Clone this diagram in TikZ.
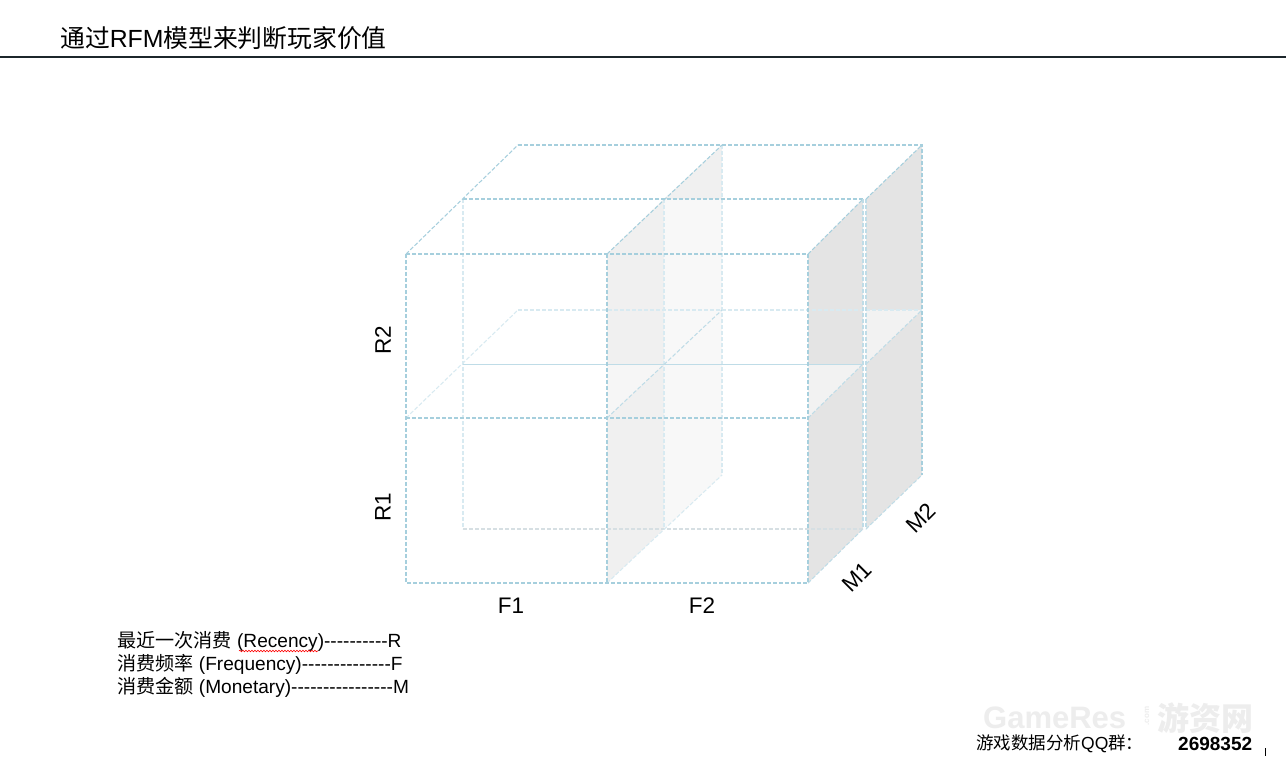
\documentclass[tikz,border=0pt]{standalone}
\usepackage{fontspec}
\setmainfont{Liberation Sans}
\newfontfamily\cjk{Noto Sans CJK SC}
\usetikzlibrary{decorations.pathmorphing}
\definecolor{lbA}{HTML}{A6CFDD}
\definecolor{lbB}{HTML}{BFDCE7}
\definecolor{lbC}{HTML}{D8EAF1}
\definecolor{lgray}{HTML}{D6DFE3}
\definecolor{faceA}{HTML}{F0F0F0}
\definecolor{faceB}{HTML}{F8F8F8}
\definecolor{faceR}{HTML}{E4E4E4}
\definecolor{faceL}{HTML}{F2F2F2}
\definecolor{faceL2}{HTML}{F6F6F6}
\definecolor{rule}{HTML}{1C262B}
\definecolor{wmark}{HTML}{EDEDED}
\newcommand\dashrun[1]{\foreach\k in {1,...,#1}{\mbox{-}}}
\begin{document}
\begin{tikzpicture}[x=1pt,y=-1pt,
  strongln/.style={draw=lbA, line width=1.05pt, dash pattern=on 4pt off 2pt},
  mediumln/.style={draw=lbB, line width=1.05pt, dash pattern=on 4pt off 2pt},
  faintln/.style={draw=lbC, line width=1.05pt, dash pattern=on 4pt off 2pt},
  grayln/.style={draw=lgray, line width=1.05pt, dash pattern=on 4pt off 2pt},
  axislbl/.style={font=\fontsize{22.5}{26}\selectfont, inner sep=0pt},
  legend/.style={font=\fontsize{19.1}{22}\selectfont, anchor=west, inner sep=0pt}]
\useasboundingbox (0,0) rectangle (1286,756);
\fill[white] (0,0) rectangle (1286,756);

% title
\node[anchor=west, inner sep=0pt, font=\fontsize{24.8}{28}\selectfont] (title) at (60,38) {{\cjk 通过}RFM{\cjk 模型来判断玩家价值}};
\draw[rule, line width=1.2pt] (0,57) coordinate (ruleL) -- (1286,57) coordinate (ruleR);

% cube vertices: front layer (a), middle layer (b, c), back layer (d)
\coordinate (a00) at (406,254); \coordinate (a10) at (607,254); \coordinate (a20) at (808,254);
\coordinate (a01) at (406,418); \coordinate (a11) at (607,418); \coordinate (a21) at (808,418);
\coordinate (a02) at (406,583); \coordinate (a12) at (607,583); \coordinate (a22) at (808,583);
\coordinate (b00) at (463,199); \coordinate (b10) at (664,199); \coordinate (b20) at (863,199);
\coordinate (b01) at (463,364); \coordinate (b11) at (664,364); \coordinate (b21) at (863,364);
\coordinate (b02) at (463,529); \coordinate (b12) at (664,529); \coordinate (b22) at (863,529);
\coordinate (c20) at (866,199); \coordinate (c21) at (866,364); \coordinate (c22) at (866,529);
\coordinate (d00) at (518,145); \coordinate (d10) at (722,145); \coordinate (d20) at (922,145);
\coordinate (d01) at (518,310); \coordinate (d11) at (722,310); \coordinate (d21) at (922,310);
\coordinate (d12) at (722,475); \coordinate (d22) at (922,475);

% shaded faces
\fill[faceA] (a10) -- (b10) -- (b12) -- (a12) -- cycle;
\fill[faceL2] (a10 |- b11) -- (b11) -- (a11) -- cycle;
\fill[faceA] (b10) -- (d10) -- (d10 |- b10) -- cycle;
\fill[faceB] (b10) -- (d10 |- b10) -- (d12) -- (b12) -- cycle;
\fill[faceR] (a20) -- (b20) -- (b22) -- (a22) -- cycle;
\fill[faceL] (a20 |- b21) -- (b21) -- (a21) -- cycle;
\fill[faceR] (c20) -- (d20) -- (d22) -- (c22) -- cycle;
\fill[faceL] (c20 |- d21) -- (d21) -- (c21) -- cycle;

% back layer
\draw[faintln] (d01) -- (d21);
\draw[faintln] (d10) -- (d12);
\draw[strongln] (d00) -- (d20) -- (d22);

% middle layer
\draw[grayln] (b02) -- (b22);
\draw[faintln] (b00) -- (b02);
\draw[faintln] (b10) -- (b12);
\draw[draw=lbB, line width=1pt] (b01) -- (b21);
\draw[strongln] (b00) -- (b20);
\draw[mediumln] (b20) -- (b22);
\draw[mediumln] (c20) -- (c22);

% depth edges
\draw[strongln] (a00) -- (d00);
\draw[strongln] (a10) -- (d10);
\draw[strongln] (a20) -- (b20);
\draw[strongln] (c20) -- (d20);
\draw[faintln] (a01) -- (d01);
\draw[mediumln] (a11) -- (d11);
\draw[mediumln] (a21) -- (b21);
\draw[mediumln] (c21) -- (d21);
\draw[faintln] (a12) -- (d12);
\draw[mediumln] (a22) -- (b22);
\draw[mediumln] (c22) -- (d22);

% front layer
\draw[strongln] (a00) rectangle (a22);
\draw[strongln] (a10) -- (a12);
\draw[strongln] (a01) -- (a21);

% axis labels
\node[axislbl, rotate=90] (r2) at (383,340) {R2};
\node[axislbl, rotate=90] (r1) at (383,507) {R1};
\node[axislbl] (f1) at (511,606) {F1};
\node[axislbl] (f2) at (702,606) {F2};
\node[axislbl, rotate=45] (m1) at (857,577) {M1};
\node[axislbl, rotate=45] (m2) at (921,518) {M2};

% legend
\node[legend] (leg1) at (117,641) {{\cjk 最近一次消费} (Recency)\dashrun{10}R};
\node[legend] (leg2) at (117,664) {{\cjk 消费频率} (Frequency)\dashrun{14}F};
\node[legend] (leg3) at (117,687) {{\cjk 消费金额} (Monetary)\dashrun{16}M};
\draw[red, line width=0.6pt, decorate, decoration={snake, amplitude=0.8pt, segment length=3pt}] (239,651) coordinate (wv1) -- (318,651) coordinate (wv2);

% watermark and footer
\node[anchor=west, inner sep=0pt, text=wmark, font=\bfseries\fontsize{31}{34}\selectfont] (wm1) at (983,718) {GameRes};
\node[anchor=center, inner sep=0pt, text=wmark, rotate=90, font=\bfseries\fontsize{8}{9}\selectfont] (wm2) at (1147,716) {.com};
\node[anchor=west, inner sep=0pt, text=wmark, font=\cjk\bfseries\fontsize{32}{34}\selectfont] (wm3) at (1157,718) {游资网};
\node[anchor=west, inner sep=0pt, font=\fontsize{17.5}{20}\selectfont] (qq) at (976,744) {{\cjk 游戏数据分析}QQ{\cjk 群：}};
\node[anchor=west, inner sep=0pt, font=\bfseries\fontsize{19}{22}\selectfont] (qqnum) at (1178,744) {2698352};
\draw[black, line width=0.8pt] (1265,748) coordinate (cur1) -- (1265,756) coordinate (cur2);
\end{tikzpicture}
\end{document}
